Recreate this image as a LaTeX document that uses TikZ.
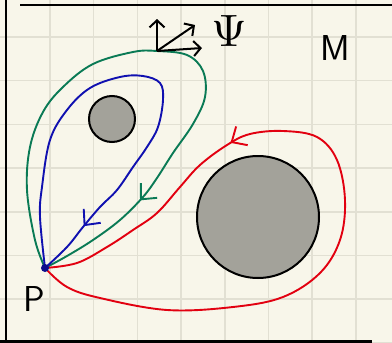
\documentclass[tikz,border=0pt]{standalone}
\usepackage{amsmath,amssymb}
\usepackage{tikz}
\usetikzlibrary{positioning,calc,arrows.meta,decorations.markings}
\definecolor{PaperCream}{RGB}{248,246,234}
\definecolor{GridGray}{RGB}{226,224,211}
\definecolor{HoleGray}{RGB}{163,162,154}
\definecolor{LoopGreen}{RGB}{10,122,85}
\definecolor{LoopBlue}{RGB}{16,16,176}
\definecolor{LoopRed}{RGB}{226,0,16}

\tikzset{
  hole/.style={circle,draw=black,line width=2pt,fill=HoleGray,inner sep=0pt},
  loopline/.style={line width=1.9pt,line join=round,line cap=round},
  midarrow/.style={postaction={decorate,decoration={markings,
    mark=at position #1 with {\arrow{Straight Barb[length=12pt,width=22pt,line width=1.9pt]}}}}},
  handtext/.style={font=\sffamily\fontsize{36}{40}\selectfont,inner sep=0pt}
}

\begin{document}
\begin{tikzpicture}[x=1pt,y=-1pt]
\useasboundingbox (0,0) rectangle (392,343);
\fill[PaperCream] (0,0) rectangle (392,343);
% grid
\foreach \i in {0,...,8}{
  \draw[GridGray,line width=1.5pt] ({6.3+43.7*\i},0) -- ({6.3+43.7*\i},343);
  \draw[GridGray,line width=1.5pt] (0,{-6.7+43.7*\i}) -- (392,{-6.7+43.7*\i});
}
% frame of M
\draw[line width=2.5pt] (20,5) -- (392,5);
\draw[line width=2.5pt] (6,0) -- (6,341.5);
\draw[line width=2.5pt] (0,341.5) -- (372,341.5);

% holes
\node[hole,minimum size=46pt] (hole1) at (112,119) {};
\node[hole,minimum size=122pt] (hole2) at (258,217) {};

\coordinate (P) at (45,268);

% green loop
\draw[LoopGreen,loopline,midarrow=0.81] plot[smooth,tension=0.6] coordinates {
  (P) (35,240) (27,190) (30,147) (43,112) (63,87) (93,64) (133,52) (157,51)
  (187,55) (203,71) (205,97) (193,124) (173,153) (157,178) (143,197)
  (120,220) (93,240) (67,256) (P)};
% blue loop
\draw[LoopBlue,loopline,midarrow=0.885] plot[smooth,tension=0.6] coordinates {
  (P) (40,217) (42,187) (50,140) (67,110) (90,88) (120,77) (143,76)
  (160,83) (163,100) (158,127) (147,147) (133,167) (117,190) (100,207)
  (83,227) (67,247) (P)};
% red loop
\draw[LoopRed,loopline,midarrow=0.70] plot[smooth,tension=0.6] coordinates {
  (P) (67,287) (100,298) (167,310) (233,307) (283,297) (320,273) (340,240)
  (345,200) (337,160) (317,137) (283,131) (250,134) (227,145) (200,165)
  (180,187) (157,213) (133,230) (107,247) (77,263) (P)};

\fill[LoopBlue!80!black] (P) circle (4pt);

% frame vectors
\coordinate (o) at (157,51);
\coordinate (e1) at (157,19);
\coordinate (e2) at (195,25);
\coordinate (e3) at (202,48);
\foreach \e in {e1,e2,e3}
  \draw[line width=2pt,-{Straight Barb[length=7pt,width=15pt,line width=2pt]}] (o) -- (\e);

% labels
\node[inner sep=0pt] (psi) at (229,31) {\resizebox{!}{31pt}{$\Psi$}};
\node[handtext] (mlabel) at (335,48) {M};
\node[handtext] (plabel) at (34,299) {P};
\end{tikzpicture}
\end{document}
